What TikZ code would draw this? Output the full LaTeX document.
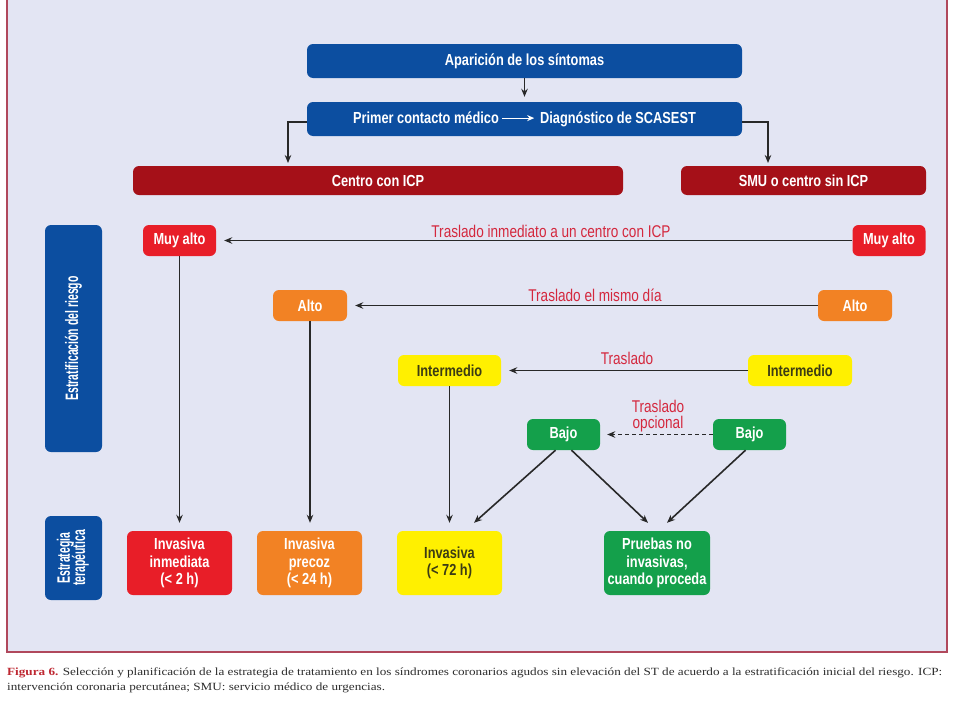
\documentclass[tikz,border=0pt]{standalone}
\usepackage{fontspec}
\usepackage{graphicx}
\setmainfont{Liberation Sans}
\newfontfamily\cond[FakeStretch=0.8]{Liberation Sans}
\newfontfamily\vcond[FakeStretch=0.58]{Liberation Sans}
\newfontfamily\capfont{Liberation Serif}
\usetikzlibrary{arrows.meta}
\definecolor{cblue}{RGB}{12,78,160}
\definecolor{cdred}{RGB}{165,16,24}
\definecolor{cred}{RGB}{232,30,40}
\definecolor{corange}{RGB}{242,130,36}
\definecolor{cyellow}{RGB}{255,240,0}
\definecolor{cgreen}{RGB}{20,160,75}
\definecolor{olive}{RGB}{60,60,20}
\definecolor{lblred}{RGB}{212,40,62}
\definecolor{bgcol}{RGB}{227,229,243}
\definecolor{framecol}{RGB}{176,72,92}
\definecolor{arrcol}{RGB}{40,40,40}
\definecolor{capred}{RGB}{190,40,50}
\definecolor{capgrey}{RGB}{45,45,45}
\tikzset{
  box/.style={rounded corners=6pt, inner sep=0pt, align=center, text=white,
    font=\cond\bfseries\fontsize{16}{17.5}\selectfont},
  bluebox/.style={box, fill=cblue},
  dredbox/.style={box, fill=cdred},
  redbox/.style={box, fill=cred},
  orangebox/.style={box, fill=corange},
  yellowbox/.style={box, fill=cyellow, text=olive},
  greenbox/.style={box, fill=cgreen},
  sidebox/.style={box, fill=cblue, font=\vcond\bfseries\fontsize{18}{17}\selectfont},
  arr/.style={draw=arrcol, line width=1.6pt, -{Stealth[length=8pt,width=6.5pt]}},
  lbl/.style={text=lblred, align=center, inner sep=0pt,
    font=\cond\fontsize{17}{16}\selectfont},
}
\begin{document}
\begin{tikzpicture}[x=1pt,y=-1pt]
\useasboundingbox (0,0) rectangle (960,720);
\fill[white] (0,0) rectangle (960,720);
\draw[framecol, line width=2pt, fill=bgcol] (7,-10) rectangle (947,652);

% top
\node[bluebox, minimum width=435, minimum height=34] (apar) at (524.5,61) {Aparición de los síntomas};
\node[bluebox, minimum width=435, minimum height=34] (prim) at (524.5,119)
  {Primer contacto médico\,\tikz[baseline=-0.6ex]\draw[white, line width=1.2pt, -{Stealth[length=7pt,width=6pt]}] (0,0) -- (32pt,0);\,\,Diagnóstico de SCASEST};
\node[dredbox, minimum width=490, minimum height=29] (centro) at (378,180.5) {Centro con ICP};
\node[dredbox, minimum width=245, minimum height=29] (smu) at (803.5,180.5) {SMU o centro sin ICP};

% side labels
\node[sidebox, minimum width=57, minimum height=227] (strat) at (73.5,338.5)
  {\rotatebox{90}{Estratificación del riesgo}};
\node[sidebox, minimum width=57, minimum height=84] (estr) at (73.5,558)
  {\rotatebox{90}{\begin{tabular}{@{}c@{}}Estrategia\\[-3pt] terapéutica\end{tabular}}};

% risk levels
\node[redbox, minimum width=73, minimum height=31] (muyL) at (179.5,240.5) {Muy alto};
\node[redbox, minimum width=73, minimum height=31] (muyR) at (889,240.5) {Muy alto};
\node[orangebox, minimum width=74, minimum height=31] (altoL) at (310,305.5) {Alto};
\node[orangebox, minimum width=74, minimum height=31] (altoR) at (855,305.5) {Alto};
\node[yellowbox, minimum width=103, minimum height=31] (intL) at (449.5,370.5) {Intermedio};
\node[yellowbox, minimum width=104, minimum height=31] (intR) at (800,370.5) {Intermedio};
\node[greenbox, minimum width=73, minimum height=31] (bajoL) at (563.5,434.5) {Bajo};
\node[greenbox, minimum width=73, minimum height=31] (bajoR) at (749.5,434.5) {Bajo};

% strategies
\node[redbox, minimum width=105, minimum height=64] (inv1) at (179.5,563) {Invasiva\\inmediata\\(< 2 h)};
\node[orangebox, minimum width=105, minimum height=64] (inv2) at (309.5,563) {Invasiva\\precoz\\(< 24 h)};
\node[yellowbox, minimum width=105, minimum height=64] (inv3) at (449.5,563) {Invasiva\\(< 72 h)};
\node[greenbox, minimum width=106, minimum height=64] (prue) at (657,563) {Pruebas no\\invasivas,\\cuando proceda};

% top connectors
\coordinate (cL) at (288,166);
\coordinate (cR) at (768,166);
\draw[arr, shorten >=5pt] (apar) -- (prim);
\draw[arr, shorten >=3pt] ([yshift=-3pt]prim.west) -| (cL);
\draw[arr, shorten >=3pt] ([yshift=-3pt]prim.east) -| (cR);

% transfers
\draw[arr, shorten >=8pt] (muyR) -- (muyL);
\draw[arr, shorten >=8pt] (altoR) -- (altoL);
\draw[arr, shorten >=8pt] (intR) -- (intL);
\draw[arr, dashed, dash pattern=on 4pt off 3pt, shorten >=7pt] (bajoR) -- (bajoL);
\node[lbl] (l1) at (551,231) {Traslado inmediato a un centro con ICP};
\node[lbl] (l2) at (595,295) {Traslado el mismo día};
\node[lbl] (l3) at (627,358) {Traslado};
\node[lbl] (l4) at (658,416) {Traslado\\opcional};

% vertical arrows
\draw[arr, shorten >=8pt] (muyL) -- (muyL |- inv1.north);
\draw[arr, shorten >=8pt] (altoL) -- (altoL |- inv2.north);
\draw[arr, shorten >=8pt] (intL) -- (intL |- inv3.north);
\draw[arr] ([xshift=-8pt]bajoL.south) -- ([xshift=24.5pt,yshift=8pt]inv3.north);
\draw[arr] ([xshift=8pt]bajoL.south) -- ([xshift=-9pt,yshift=8pt]prue.north);
\draw[arr] ([xshift=-4pt]bajoR.south) -- ([xshift=10pt,yshift=8pt]prue.north);

% caption
\node[anchor=base west, inner sep=0pt, text=capgrey] (cap) at (7,675)
  {\resizebox{935pt}{\height}{\capfont\fontsize{11}{15}\selectfont
   \begin{tabular}[t]{@{}l@{}}
   {\color{capred}\bfseries Figura 6.} Selección y planificación de la estrategia de tratamiento en los síndromes coronarios agudos sin elevación del ST de acuerdo a la estratificación inicial del riesgo. ICP:\\
   intervención coronaria percutánea; SMU: servicio médico de urgencias.
   \end{tabular}}};
\end{tikzpicture}
\end{document}
